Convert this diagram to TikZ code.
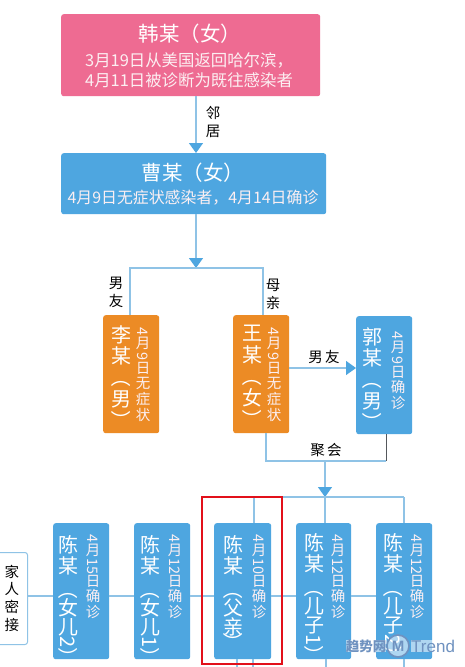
\documentclass[tikz,border=0pt]{standalone}
\usepackage{fontspec}
\usepackage{graphicx}
\setmainfont{Noto Sans CJK SC}
\newfontfamily\latinf{Liberation Sans}
\usetikzlibrary{arrows.meta}
\definecolor{cpink}{HTML}{EE6B92}
\definecolor{cblue}{HTML}{4EA6E0}
\definecolor{corange}{HTML}{EC8B25}
\definecolor{cline}{HTML}{8FC3E6}
\definecolor{cred}{HTML}{E2101A}
\definecolor{ctext}{HTML}{FCEFF2}
\definecolor{cmark}{HTML}{6F92C0}
\definecolor{cdark}{HTML}{55585C}
\newcommand{\rr}[1]{\rotatebox[origin=c]{-90}{#1}}
\newcommand{\fs}[2]{\fontsize{#1}{#2}\selectfont\lineskiplimit=-100pt\relax}
% one-digit day
\newcommand{\datestack}[2]{\rr{4}\\[-3.5pt]月\\[-3.5pt]\rr{#1}\\[-3.5pt]日\\[-1pt]#2}
% two-digit day
\newcommand{\datestackb}[2]{\rr{4}\\[-3.5pt]月\\[-0.5pt]\rr{#1}\\[-0.5pt]日\\[-1pt]#2}
\tikzset{
  box/.style={rounded corners=2.5pt,inner sep=0pt,anchor=north west,fill=#1},
  conn/.style={draw=cline,line width=1.3pt},
  arr/.style={conn,-{Triangle[width=14pt,length=10pt,color=cblue]}},
  title/.style={text=white,font=\fs{20.5}{22},align=center,inner sep=0pt},
  sub/.style={text=ctext,font=\fs{16.4}{21},align=center,inner sep=0pt},
  namecol/.style={text=white,font=\fs{20}{21.5},align=center,inner sep=0pt,anchor=north},
  datecol/.style={text=ctext,font=\fs{14.5}{16},align=center,inner sep=0pt,anchor=north},
  lab/.style={text=black,font=\fs{14.5}{18},align=center,inner sep=0pt},
  halo/.style={fill=white,fill opacity=.55,text opacity=1},
}
\begin{document}
\begin{tikzpicture}[x=1pt,y=-1pt]
\useasboundingbox (0,0) rectangle (464,667);
\fill[white] (0,0) rectangle (464,667);
\clip (0,0) rectangle (464,667);
% boxes
\node[box=cpink,minimum width=259pt,minimum height=82pt] (han) at (61,14) {};
\node[box=cblue,minimum width=265pt,minimum height=61pt] (cao) at (61,153) {};
\node[box=corange,minimum width=56pt,minimum height=118pt] (li) at (103,315) {};
\node[box=corange,minimum width=56pt,minimum height=118pt] (wang) at (233,315) {};
\node[box=cblue,minimum width=56pt,minimum height=118pt] (guo) at (356,316) {};
\node[box=cblue,minimum width=56pt,minimum height=136pt] (c1) at (53,523) {};
\node[box=cblue,minimum width=56pt,minimum height=136pt] (c2) at (134,523) {};
\node[box=cblue,minimum width=57pt,minimum height=136pt] (c3) at (214,523) {};
\node[box=cblue,minimum width=55pt,minimum height=136pt] (c4) at (296,523) {};
\node[box=cblue,minimum width=56pt,minimum height=136pt] (c5) at (376,523) {};
\node[draw=cline,line width=1pt,fill=white,rounded corners=2.5pt,inner sep=0pt,anchor=north west,minimum width=37pt,minimum height=92pt] (home) at (-10,552) {};
% junction coordinates
\coordinate (j1) at (196,268);
\coordinate (jl) at (130,268);
\coordinate (jr) at (263,268);
\coordinate (g1) at (266,461);
\coordinate (g2) at (386,461);
\coordinate (g3) at (325,461);
\coordinate (t0) at (325,497);
\coordinate (t1) at (254,497);
\coordinate (t2) at (404,497);
\coordinate (s1) at (237,667);
\coordinate (s2) at (253,667);
\coordinate (s3) at (326,667);
\coordinate (s4) at (404,667);
% connectors
\draw[arr] (han.south -| j1) -- (cao.north -| j1);
\draw[arr] (cao.south -| j1) -- (j1);
\draw[conn] (li.north -| jl) -- (jl) -- (jr) -- (wang.north -| jr);
\draw[arr] (wang.east |- 0,368) -- (guo.west |- 0,368);
\draw[conn] (wang.south -| g1) -- (g1) -- (g2);
\draw[draw=cdark,line width=1pt] (g2) -- (guo.south -| g2);
\draw[arr] (g3) -- (t0);
\draw[conn] (t1) -- (t2);
\draw[conn] (t1) -- (c3.north -| t1);
\draw[conn] (t0) -- (c4.north -| t0);
\draw[conn] (t2) -- (c5.north -| t2);
\draw[conn] (home.east |- 0,596) -- (c1.west |- 0,596);
\draw[conn] (c1.east |- 0,596) -- (c2.west |- 0,596);
\draw[conn] (c2.east |- 0,596) -- (c3.west |- 0,596);
\draw[conn] (c3.east |- 0,596) -- (c4.west |- 0,596);
\draw[conn] (c4.east |- 0,596) -- (c5.west |- 0,596);
\draw[conn] (c3.south -| s1) -- (s1);
\draw[conn] (c3.south -| s2) -- (s2);
\draw[conn] (c4.south -| s3) -- (s3);
\draw[conn] (c5.south -| s4) -- (s4);
% highlight
\node[draw=cred,line width=1.5pt,inner sep=0pt,anchor=north west,minimum width=80pt,minimum height=167pt] (hl) at (201,496) {};
% texts
\node[title] (han-t) at (190,34) {韩某（女）};
\node[sub,anchor=west] (han-s1) at (85,60) {3月19日从美国返回哈尔滨，};
\node[sub,anchor=west] (han-s2) at (85,80) {4月11日被诊断为既往感染者};
\node[title] (cao-t) at (193,173) {曹某（女）};
\node[sub,font=\fs{15.9}{21}] (cao-s) at (193,198) {4月9日无症状感染者，4月14日确诊};
\node[lab] (l1) at (213,122) {邻\\居};
\node[lab] (l2) at (116,292) {男\\友};
\node[lab] (l3) at (273,294) {母\\亲};
\node[lab] (l4) at (324,357) {男\,友};
\node[lab] (l5) at (326,450) {聚\,会};
\node[lab,font=\fs{14.5}{17.7}] (l6) at (12,598) {家\\人\\密\\接};
\node[namecol] (li-n) at (121,325) {李\\某\\\rr{（}\\男\\\rr{）}};
\node[datecol] (li-d) at (143,327) {\datestack{9}{无\\症\\状}};
\node[namecol] (wa-n) at (252,325) {王\\某\\\rr{（}\\女\\\rr{）}};
\node[datecol] (wa-d) at (274,327) {\datestack{9}{无\\症\\状}};
\node[namecol] (gu-n) at (372,327) {郭\\某\\\rr{（}\\男\\\rr{）}};
\node[datecol] (gu-d) at (398,331) {\datestack{9}{确\\诊}};
\node[namecol] (c1-n) at (68,535) {陈\\某\\[2pt]\rr{（}\\[-3pt]女\\[-3pt]儿\\[-6pt]\rr{2}\\[-6pt]\rr{）}};
\node[datecol] (c1-d) at (93,534) {\datestackb{15}{确\\诊}};
\node[namecol] (c2-n) at (150,535) {陈\\某\\[2pt]\rr{（}\\[-3pt]女\\[-3pt]儿\\[-6pt]\rr{1}\\[-6pt]\rr{）}};
\node[datecol] (c2-d) at (175,534) {\datestackb{12}{确\\诊}};
\node[namecol] (c3-n) at (233,535) {陈\\某\\[2pt]\rr{（}\\[-3pt]父\\[-3pt]亲\\[-6pt]\rr{）}};
\node[datecol] (c3-d) at (259,534) {\datestackb{10}{确\\诊}};
\node[namecol] (c4-n) at (314,533) {陈\\某\\[2pt]\rr{（}\\[-3pt]儿\\[-3pt]子\\[-6pt]\rr{1}\\[-6pt]\rr{）}};
\node[datecol] (c4-d) at (338,534) {\datestackb{12}{确\\诊}};
\node[namecol] (c5-n) at (393,533) {陈\\某\\[2pt]\rr{（}\\[-3pt]儿\\[-3pt]子\\[-6pt]\rr{2}\\[-6pt]\rr{）}};
\node[datecol] (c5-d) at (417,534) {\datestackb{12}{确\\诊}};
% watermark
\node[text=cmark,font=\bfseries\fs{13.5}{14},inner sep=0pt,halo] (wm1) at (366,646) {趋势网};
\node[draw=cmark,line width=1.6pt,circle,minimum size=22pt,inner sep=0pt,text=cmark,font=\latinf\bfseries\fs{15}{15},halo] (wm2) at (398,646) {M};
\node[text=cmark,font=\latinf\fs{17}{17},inner sep=0pt,anchor=west,halo] (wm3) at (411,646) {Trend};
\end{tikzpicture}
\end{document}
